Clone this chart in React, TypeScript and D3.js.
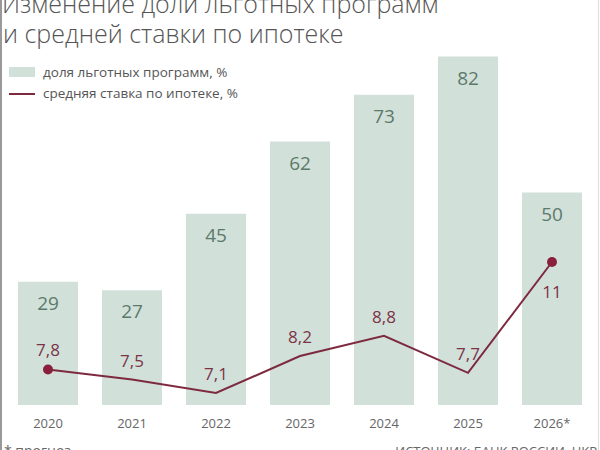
import * as d3 from "d3";

const years = ["2020", "2021", "2022", "2023", "2024", "2025", "2026*"];
const shareValues = [29, 27, 45, 62, 73, 82, 50];
const rateValues = [7.8, 7.5, 7.1, 8.2, 8.8, 7.7, 11];
const rateLabels = ["7,8", "7,5", "7,1", "8,2", "8,8", "7,7", "11"];

const W = 600;
const H = 450;
const font = "'Open Sans', 'DejaVu Sans', sans-serif";

export default function App() {
  const x = d3.scaleBand().domain(years).range([6, 594]).paddingInner(0.286).paddingOuter(0.143);
  const yBar = d3.scaleLinear().domain([0, 100]).range([405, -20]);
  const yRate = d3.scaleLinear().domain([7.1, 11]).range([393, 262]);

  const pts = years.map((yr, i) => ({
    yr,
    cx: (x(yr) ?? 0) + x.bandwidth() / 2,
    cy: yRate(rateValues[i]),
  }));
  const line = d3
    .line<{ cx: number; cy: number }>()
    .x((d) => d.cx)
    .y((d) => d.cy);

  const last = pts.length - 1;

  return (
    <svg
      width={W}
      height={H}
      style={{ position: "absolute", left: 0, top: 0, background: "#fff" }}
      fontFamily={font}
    >
      {/* title */}
      <text x={2} y={13} fontSize={25} fontWeight={300} fill="#555">
        Изменение доли льготных программ
      </text>
      <text x={3} y={43} fontSize={25} fontWeight={300} fill="#555">
        и средней ставки по ипотеке
      </text>

      {/* legend */}
      <rect x={9} y={67} width={26} height={10} fill="#d2e0da" />
      <text x={43} y={77} fontSize={13.5} fill="#555">
        доля льготных программ, %
      </text>
      <line x1={9} x2={35} y1={94} y2={94} stroke="#7d2a3f" strokeWidth={2} />
      <text x={43} y={98} fontSize={13.5} fill="#555">
        средняя ставка по ипотеке, %
      </text>

      {/* bars */}
      {years.map((yr, i) => (
        <g key={yr}>
          <rect
            x={x(yr)}
            y={yBar(shareValues[i])}
            width={x.bandwidth()}
            height={yBar(0) - yBar(shareValues[i])}
            fill="#d2e0da"
          />
          <text
            x={(x(yr) ?? 0) + x.bandwidth() / 2}
            y={yBar(shareValues[i]) + 28}
            textAnchor="middle"
            fontSize={19}
            fill="#5c7a6a"
          >
            {shareValues[i]}
          </text>
          <text
            x={(x(yr) ?? 0) + x.bandwidth() / 2}
            y={428}
            textAnchor="middle"
            fontSize={13}
            fill="#666"
          >
            {yr}
          </text>
        </g>
      ))}

      {/* rate line */}
      <path d={line(pts) ?? ""} fill="none" stroke="#7d2a3f" strokeWidth={2} />
      <circle cx={pts[0].cx} cy={pts[0].cy} r={5} fill="#8a1f3c" />
      <circle cx={pts[last].cx} cy={pts[last].cy} r={5} fill="#8a1f3c" />
      {pts.map((p, i) => (
        <text
          key={p.yr}
          x={p.cx}
          y={i === last ? p.cy + 36 : p.cy - 13}
          textAnchor="middle"
          fontSize={17}
          fill="#7a3446"
        >
          {rateLabels[i]}
        </text>
      ))}

      {/* footer */}
      <text x={4} y={456} fontSize={14} fill="#666">
        * прогноз
      </text>
      <text x={597} y={456} textAnchor="end" fontSize={13} fill="#666">
        ИСТОЧНИК: БАНК РОССИИ, НКР
      </text>

      {/* frame edges */}
      <rect x={0} y={0} width={2} height={H} fill="#999" />
      <rect x={598} y={0} width={1} height={H} fill="#ddd" />
    </svg>
  );
}
